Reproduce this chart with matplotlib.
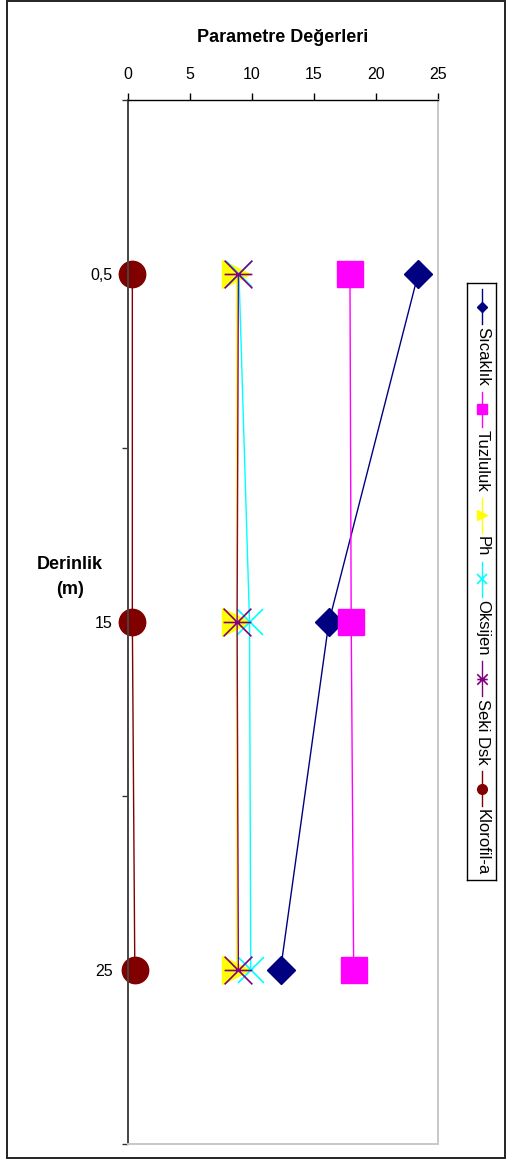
import matplotlib
matplotlib.use('Agg')
import matplotlib.pyplot as plt
from matplotlib.path import Path
from matplotlib.patches import Rectangle
import numpy as np

plt.rcParams['font.family'] = ['Liberation Sans', 'DejaVu Sans']

# ---- data ----
depths = ['0,5', '15', '25']
sicaklik = [23.4, 16.2, 12.3]
tuzluluk = [17.9, 18.0, 18.2]
ph = [8.7, 8.7, 8.7]
oksijen = [8.95, 9.8, 9.9]
seki_dsk = [8.9, 8.8, 8.9]
klorofil = [0.35, 0.35, 0.55]
series_names = ['Sıcaklık', 'Tuzluluk', 'Ph', 'Oksijen', 'Seki Dsk', 'Klorofil-a']
x_ticks = [0, 5, 10, 15, 20, 25]

W, H = 508, 1160
fig = plt.figure(figsize=(W / 100, H / 100), dpi=100)


def px(x0, y0, x1, y1):
    return [x0 / W, 1 - y1 / H, (x1 - x0) / W, (y1 - y0) / H]


# figure border
fig.patches.append(Rectangle((7 / W, 1 - 1158 / H), (505 - 7) / W, (1158 - 1) / H,
                             transform=fig.transFigure, fill=False,
                             edgecolor='#222222', lw=1.4))

star = Path([(-1, -1), (1, 1), (-1, 1), (1, -1), (-1, 0), (1, 0)],
            [Path.MOVETO, Path.LINETO] * 3)

styles = [
    dict(color='#000080', marker='D', ms=13.8, mfc='#000080', mec='#000080'),
    dict(color='#FF00FF', marker='s', ms=19, mfc='#FF00FF', mec='#FF00FF'),
    dict(color='#FFFF00', marker='>', ms=20, mfc='#FFFF00', mec='#FFFF00'),
    dict(color='#00FFFF', marker='x', ms=19, mec='#00FFFF', mew=1.2),
    dict(color='#800080', marker=star, ms=20, mec='#800080', mew=1.2),
    dict(color='#800000', marker='o', ms=19, mfc='#800000', mec='#800000'),
]
data = [sicaklik, tuzluluk, ph, oksijen, seki_dsk, klorofil]

ax = fig.add_axes(px(128, 100, 438, 1144))
ypos = np.arange(len(depths))
for vals, st in zip(data, styles):
    ax.plot(vals, ypos, lw=1.0, clip_on=False, **st)

ax.set_xlim(0, 25)
ax.set_ylim(len(depths) - 0.5, -0.5)
ax.xaxis.tick_top()
ax.set_xticks(x_ticks)
ax.set_xticklabels([str(t) for t in x_ticks])
ax.tick_params(axis='x', direction='out', length=5, width=1, color='black',
               labelsize=11.5, pad=8)
ax.set_yticks(np.arange(len(depths) + 1) - 0.5)
ax.set_yticklabels([])
ax.tick_params(axis='y', which='major', direction='out', length=4.3, width=1, color='#333333')
ax.set_yticks(ypos, minor=True)
ax.set_yticklabels(depths, minor=True)
ax.tick_params(axis='y', which='minor', length=0, labelsize=11.5, pad=11)
ax.spines['top'].set_color('black')
ax.spines['top'].set_linewidth(1.0)
ax.spines['left'].set_color('#444444')
ax.spines['left'].set_linewidth(1.4)
for s in ('right', 'bottom'):
    ax.spines[s].set_color('#c8c8c8')
    ax.spines[s].set_linewidth(1.4)

fig.text(283 / W, 1 - 37 / H, 'Parametre Değerleri', ha='center', va='center',
         fontsize=13, fontweight='bold')
fig.text(70 / W, 1 - 577 / H, 'Derinlik\n(m)', ha='center', va='center',
         fontsize=13, fontweight='bold', linespacing=1.6)

# rotated legend drawn manually
lx0, ly0, lx1, ly1 = 467, 283, 496, 880
lax = fig.add_axes(px(lx0, ly0, lx1, ly1))
lax.set_xlim(0, lx1 - lx0)
lax.set_ylim(ly1 - ly0, 0)
lax.set_xticks([])
lax.set_yticks([])
for s in lax.spines.values():
    s.set_color('black')
    s.set_linewidth(1.0)
renderer = fig.canvas.get_renderer()
cx = (lx1 - lx0) / 2
y = 6
seg = 35
leg_ms = {'D': 5.5, 's': 6.5, '>': 7.5, 'x': 7.5, 'o': 7}
for name, st in zip(series_names, styles):
    lst = dict(st)
    m = lst.get('marker')
    lst['ms'] = leg_ms.get(m, 7.5) if isinstance(m, str) else 7.5
    lax.plot([cx, cx], [y, y + seg], color=st['color'], lw=1.0)
    col = lst.pop('color')
    lax.plot([cx], [y + seg / 2], color=col, **lst)
    t = lax.text(cx + 1, y + seg + 3, name, rotation=-90, ha='center', va='top', fontsize=12)
    bb = t.get_window_extent(renderer)
    y = y + seg + 3 + bb.height + 6

fig.savefig('out.png', dpi=100)
